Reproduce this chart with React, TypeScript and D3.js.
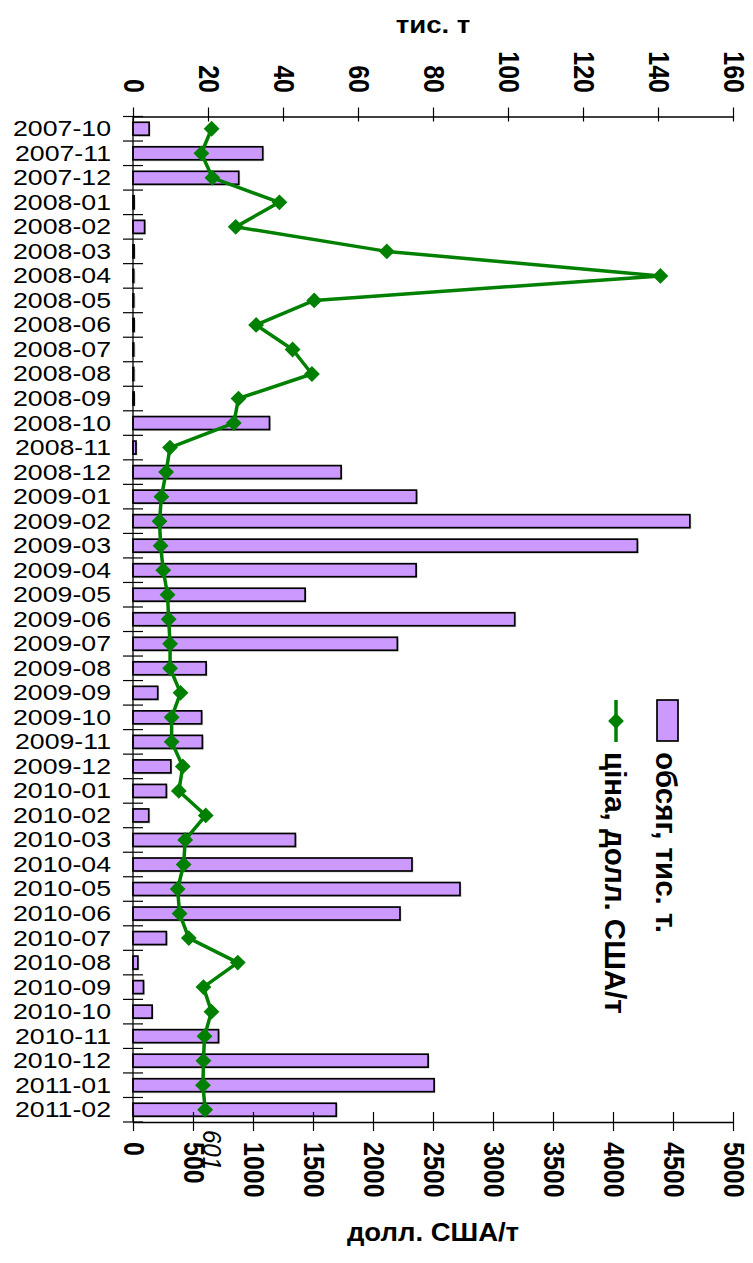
import React, { useEffect, useRef } from 'react';
import * as d3 from 'd3';

const months = [
  '2007-10', '2007-11', '2007-12',
  '2008-01', '2008-02', '2008-03', '2008-04', '2008-05', '2008-06',
  '2008-07', '2008-08', '2008-09', '2008-10', '2008-11', '2008-12',
  '2009-01', '2009-02', '2009-03', '2009-04', '2009-05', '2009-06',
  '2009-07', '2009-08', '2009-09', '2009-10', '2009-11', '2009-12',
  '2010-01', '2010-02', '2010-03', '2010-04', '2010-05', '2010-06',
  '2010-07', '2010-08', '2010-09', '2010-10', '2010-11', '2010-12',
  '2011-01', '2011-02',
];

// обсяг, тис. т
const volume = [
  4.3, 34.6, 28.2,
  0.3, 3.1, 0.3, 0.2, 0.2, 0.3, 0.2, 0.2, 0.3, 36.4, 0.8, 55.5,
  75.6, 148.5, 134.5, 75.5, 45.9, 101.8, 70.5, 19.5, 6.6, 18.3, 18.5, 10.1,
  8.9, 4.2, 43.3, 74.4, 87.2, 71.2, 8.9, 1.3, 2.8, 5.1, 22.8, 78.7,
  80.3, 54.2,
];

// ціна, долл. США/т
const price = [
  655, 570, 662,
  1220, 856, 2115, 4395, 1510, 1026, 1330, 1491, 879, 840, 308, 276,
  237, 221, 230, 252, 288, 297, 309, 309, 396, 322, 322, 415,
  382, 606, 435, 422, 372, 388, 465, 873, 587, 654, 596, 587,
  583, 601,
];

const volumeTicks = [0, 20, 40, 60, 80, 100, 120, 140, 160];
const priceTicks = [0, 500, 1000, 1500, 2000, 2500, 3000, 3500, 4000, 4500, 5000];
const legendLabels = ['обсяг, тис. т.', 'ціна, долл. США/т'];
const volumeTitle = 'тис. т';
const priceTitle = 'долл. США/т';

const FONT = '"Liberation Sans", Arial, Helvetica, sans-serif';
const BAR_FILL = '#CC99FF';
const LINE_COLOR = '#008000';

export default function App() {
  const svgRef = useRef<SVGSVGElement>(null);

  useEffect(() => {
    if (!svgRef.current) return;
    const W = 753;
    const H = 1263;
    const margin = { top: 116.5, right: 20, bottom: 141, left: 133 };
    const width = W - margin.left - margin.right;
    const height = H - margin.top - margin.bottom;

    const root = d3.select(svgRef.current);
    root.selectAll('*').remove();
    root.attr('font-family', FONT);

    const g = root.append('g').attr('transform', `translate(${margin.left},${margin.top})`);

    const xVol = d3.scaleLinear().domain([0, 160]).range([0, width]);
    const xPrice = d3.scaleLinear().domain([0, 5000]).range([0, width]);
    const y = d3.scaleBand<string>().domain(months).range([0, height]);
    const cy = (m: string) => (y(m) as number) + y.bandwidth() / 2;
    const barH = y.bandwidth() * 0.53;

    // bars (with a faint shadow)
    g.selectAll('.shadow')
      .data(months)
      .enter()
      .append('rect')
      .attr('x', 1.5)
      .attr('y', (d) => cy(d) - barH / 2 + 1.5)
      .attr('width', (d, i) => Math.max(xVol(volume[i]), 1))
      .attr('height', barH)
      .attr('fill', '#999')
      .attr('opacity', 0.45);

    g.selectAll('.bar')
      .data(months)
      .enter()
      .append('rect')
      .attr('x', 0)
      .attr('y', (d) => cy(d) - barH / 2)
      .attr('width', (d, i) => xVol(volume[i]))
      .attr('height', barH)
      .attr('fill', BAR_FILL)
      .attr('stroke', '#000')
      .attr('stroke-width', 1.7);

    // top axis (volume)
    const topAxis = g.append('g').call(d3.axisTop(xVol).tickValues(volumeTicks).tickSize(9).tickSizeOuter(0));
    topAxis.select('.domain').attr('stroke', '#000').attr('stroke-width', 1.3);
    topAxis.selectAll('.tick line').attr('y1', 5).attr('y2', -9).attr('stroke', '#000').attr('stroke-width', 1.2);
    topAxis.selectAll('.tick text').remove();
    topAxis
      .selectAll('.tick')
      .append('text')
      .attr('transform', 'translate(0,-23.5) scale(1.15,1) rotate(90)')
      .attr('text-anchor', 'end')
      .attr('dominant-baseline', 'central')
      .attr('font-family', FONT)
      .attr('font-size', 25)
      .attr('font-weight', 'bold')
      .attr('fill', '#000')
      .text((d: any) => d);

    // bottom axis (price)
    const bottomAxis = g
      .append('g')
      .attr('transform', `translate(0,${height})`)
      .call(d3.axisBottom(xPrice).tickValues(priceTicks).tickSize(9).tickSizeOuter(0));
    bottomAxis.select('.domain').attr('stroke', '#000').attr('stroke-width', 1.3);
    bottomAxis.selectAll('.tick line').attr('y1', -10).attr('y2', 9).attr('stroke', '#000').attr('stroke-width', 1.2);
    bottomAxis.selectAll('.tick text').remove();
    bottomAxis
      .selectAll('.tick')
      .append('text')
      .attr('transform', 'translate(0,20) scale(1.15,1) rotate(90)')
      .attr('text-anchor', 'start')
      .attr('dominant-baseline', 'central')
      .attr('font-family', FONT)
      .attr('font-size', 25)
      .attr('font-weight', 'bold')
      .attr('fill', '#000')
      .text((d: any) => d);

    // category axis
    const catAxis = g.append('g');
    catAxis
      .append('line')
      .attr('x1', 0)
      .attr('x2', 0)
      .attr('y1', 0)
      .attr('y2', height)
      .attr('stroke', '#000')
      .attr('stroke-width', 1.3);
    const bounds = months.map((m) => y(m) as number).concat([height]);
    catAxis
      .selectAll('.ctick')
      .data(bounds)
      .enter()
      .append('line')
      .attr('x1', -10)
      .attr('x2', 10)
      .attr('y1', (d) => d)
      .attr('y2', (d) => d)
      .attr('stroke', '#000')
      .attr('stroke-width', 1.2);
    catAxis
      .selectAll('.clabel')
      .data(months)
      .enter()
      .append('text')
      .attr('transform', (d) => `translate(-22,${cy(d)}) scale(1.26,1)`)
      .attr('text-anchor', 'end')
      .attr('dominant-baseline', 'central')
      .attr('font-size', 21.2)
      .attr('fill', '#000')
      .text((d) => d);

    // price line
    const line = d3
      .line<number>()
      .x((d) => xPrice(d))
      .y((d, i) => cy(months[i]));
    g.append('path')
      .datum(price)
      .attr('d', line)
      .attr('fill', 'none')
      .attr('stroke', LINE_COLOR)
      .attr('stroke-width', 3.5)
      .attr('stroke-linejoin', 'round');

    const diamond = d3.symbol().type(d3.symbolSquare).size(125);
    g.selectAll('.marker')
      .data(price)
      .enter()
      .append('path')
      .attr('d', diamond as any)
      .attr('transform', (d, i) => `translate(${xPrice(d)},${cy(months[i])}) rotate(45)`)
      .attr('fill', LINE_COLOR);

    // data label of the last point
    const lastPrice = price[price.length - 1];
    g.append('text')
      .attr('transform', `translate(${xPrice(lastPrice) + 7},${height + 8}) scale(1.1,1) rotate(90)`)
      .attr('text-anchor', 'start')
      .attr('dominant-baseline', 'central')
      .attr('font-size', 24)
      .attr('font-style', 'italic')
      .attr('fill', '#000')
      .text(lastPrice);

    // axis titles
    root
      .append('text')
      .attr('transform', `translate(${margin.left + width / 2},33) scale(1.15,1)`)
      .attr('text-anchor', 'middle')
      .attr('font-size', 24)
      .attr('font-weight', 'bold')
      .attr('fill', '#000')
      .text(volumeTitle);
    root
      .append('text')
      .attr('transform', `translate(${margin.left + width / 2},1241) scale(1.1,1)`)
      .attr('text-anchor', 'middle')
      .attr('font-size', 25)
      .attr('font-weight', 'bold')
      .attr('fill', '#000')
      .text(priceTitle);

    // legend
    const legend = root.append('g');
    legend
      .append('rect')
      .attr('x', 657)
      .attr('y', 700)
      .attr('width', 21)
      .attr('height', 41)
      .attr('fill', BAR_FILL)
      .attr('stroke', '#000')
      .attr('stroke-width', 1.7);
    legend
      .append('line')
      .attr('x1', 616)
      .attr('x2', 616)
      .attr('y1', 700)
      .attr('y2', 742)
      .attr('stroke', LINE_COLOR)
      .attr('stroke-width', 3.5);
    legend
      .append('path')
      .attr('d', diamond as any)
      .attr('transform', 'translate(616,721) rotate(45)')
      .attr('fill', LINE_COLOR);
    legend
      .selectAll('.ltext')
      .data(legendLabels)
      .enter()
      .append('text')
      .attr('transform', (d, i) => `translate(${i === 0 ? 656 : 605},752) rotate(90)`)
      .attr('text-anchor', 'start')
      .attr('font-size', 29.5)
      .attr('font-weight', 'bold')
      .attr('fill', '#000')
      .text((d) => d);
  }, []);

  return (
    <svg
      ref={svgRef}
      width={753}
      height={1263}
      style={{ position: 'absolute', left: 0, top: 0, background: '#fff' }}
    ></svg>
  );
}
